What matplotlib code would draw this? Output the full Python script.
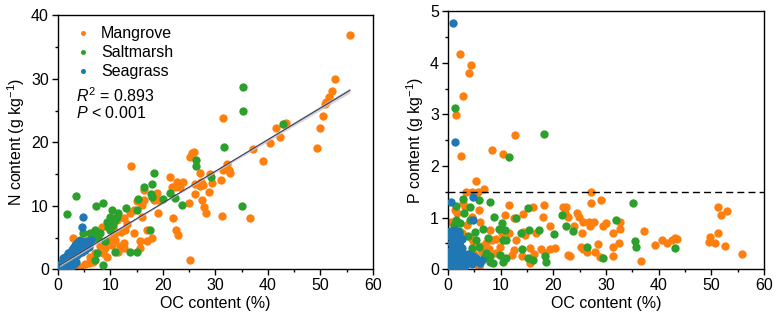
import matplotlib
matplotlib.use("Agg")
import matplotlib.pyplot as plt
import numpy as np

plt.rcParams['font.family'] = ['Liberation Sans', 'DejaVu Sans']
plt.rcParams['mathtext.fontset'] = 'custom'
plt.rcParams['mathtext.rm'] = 'Liberation Sans'
plt.rcParams['mathtext.it'] = 'Liberation Sans:italic'
plt.rcParams['mathtext.bf'] = 'Liberation Sans:bold'

# ---------------- Data: left panel (OC vs N) ----------------
mangrove_oc_n = [55.6, 52.8, 52.2, 51.6, 51.1, 50.9, 50.5, 50.0, 49.3, 43.4, 43.0, 41.6, 42.3, 40.4, 37.1, 39.1, 36.5,
                 31.5, 32.2, 32.5, 32.7, 31.5, 31.0, 31.2, 29.3, 29.0, 28.8, 27.1, 27.3, 27.7, 27.0, 27.4, 27.9, 28.2,
                 25.0, 26.1, 26.1, 25.2, 25.5, 25.9, 25.2, 23.8, 23.3, 22.6, 22.3, 21.7, 21.4, 22.0, 22.4, 22.9,
                 18.9, 19.1, 19.1, 18.2, 14.0, 16.3, 16.3, 16.0, 15.0, 14.4, 13.7, 12.5, 13.1, 12.8, 14.4, 16.9,
                 17.9, 16.9, 15.6, 15.6, 12.5, 12.5, 11.5, 10.9, 10.6, 9.9, 9.3, 9.0, 8.6, 9.3, 8.0, 8.3, 7.4,
                 6.1, 4.8, 4.2, 5.5, 2.8, 3.6, 7.1, 5.1, 10.6, 11.2, 16.0, 12.0, 11.8, 10.2, 6.6, 5.9]
mangrove_n = [36.9, 30.0, 28.1, 27.2, 26.4, 26.0, 24.1, 22.3, 19.1, 23.1, 22.9, 22.2, 20.9, 19.9, 18.9, 17.0, 8.0,
              23.9, 16.6, 15.7, 15.1, 15.6, 14.1, 8.4, 13.6, 15.0, 12.2, 15.1, 13.8, 13.3, 13.1, 10.9, 9.8, 8.8,
              10.5, 13.4, 11.9, 17.7, 18.3, 18.5, 1.5, 13.8, 13.0, 13.8, 13.0, 13.0, 14.6, 8.0, 6.2, 5.4,
              12.0, 10.9, 8.8, 10.9, 16.3, 12.5, 10.9, 10.1, 10.7, 9.3, 8.8, 8.0, 7.2, 6.2, 5.7, 6.2,
              4.9, 4.4, 4.4, 3.3, 4.1, 3.3, 2.8, 4.6, 5.4, 4.6, 4.1, 3.3, 2.5, 2.0, 3.6, 6.7, 5.1,
              2.0, 3.0, 0.4, 4.6, 5.0, 2.5, 2.5, 0.9, 6.2, 7.8, 8.3, 5.8, 3.6, 3.8, 1.2, 1.0]

saltmarsh_oc_n = [35.3, 35.3, 42.9, 31.7, 26.2, 26.3, 29.2, 35.0, 23.6, 21.4, 22.3, 20.1, 18.3, 18.0, 17.7, 18.0,
                  16.3, 15.3, 15.1, 13.0, 11.5, 10.3, 9.9, 9.3, 10.2, 10.9, 8.6, 7.2, 3.4, 1.8, 9.9, 7.1, 8.0,
                  7.7, 5.8, 7.4, 7.1, 8.6, 10.9, 13.7, 15.0, 17.5, 4.8, 6.1, 4.2, 11.2, 10.5, 9.6, 6.8, 8.9]
saltmarsh_n = [28.7, 24.9, 22.9, 19.3, 17.2, 16.2, 14.6, 9.9, 10.2, 12.0, 11.2, 11.0, 15.1, 13.4, 11.8, 11.4,
               13.0, 11.0, 9.3, 9.6, 8.8, 9.4, 8.3, 7.5, 7.5, 7.8, 10.5, 9.9, 11.5, 8.7, 6.2, 6.2, 5.7,
               5.1, 3.8, 2.5, 1.5, 0.7, 2.8, 2.8, 2.7, 6.2, 5.7, 5.7, 4.6, 8.3, 7.0, 6.6, 5.0, 4.4]

seagrass_oc_n = [0.3, 0.5, 0.7, 0.9, 1.0, 1.2, 1.3, 1.5, 1.6, 1.8, 1.9, 2.0, 2.1, 2.2, 2.3, 2.5, 2.6, 2.7, 2.8,
                 2.9, 3.0, 3.1, 3.2, 3.3, 3.4, 3.5, 3.6, 3.7, 3.8, 3.9, 4.0, 4.1, 4.2, 4.3, 4.5, 4.6, 4.8,
                 5.0, 5.2, 5.5, 5.8, 6.0, 6.3, 1.0, 1.5, 0.6, 2.4, 3.0, 0.4, 0.8, 1.1, 1.4, 1.7, 2.0, 2.3,
                 2.6, 2.9, 3.3, 3.6, 4.0, 4.4, 0.2, 0.5, 1.2, 1.9, 2.7, 3.4, 4.7, 4.5,
                 1.6, 2.2, 2.8, 3.5, 4.2, 4.9, 5.4, 1.0, 1.8, 2.5, 3.2, 3.9]
seagrass_n = [0.2, 0.5, 0.3, 0.8, 0.4, 1.0, 0.6, 1.3, 0.8, 1.5, 1.0, 1.8, 0.7, 1.3, 2.1, 1.6, 2.4, 1.1, 2.0,
              2.7, 1.5, 2.3, 3.0, 1.9, 2.6, 3.3, 2.2, 3.7, 2.9, 4.0, 3.3, 2.5, 4.3, 3.6, 4.0, 2.8, 3.5,
              4.3, 3.0, 3.8, 4.4, 3.5, 4.6, 0.1, 0.3, 0.9, 0.9, 0.8, 0.6, 1.2, 1.6, 1.9, 2.1, 2.5, 2.8,
              3.1, 3.4, 3.8, 4.1, 4.4, 4.5, 0.1, 0.0, 0.2, 0.4, 0.5, 1.2, 8.2, 6.7,
              2.0, 2.6, 3.2, 3.9, 3.8, 4.0, 4.2, 1.8, 1.1, 1.9, 3.6, 4.3]

# regression fit
fit_intercept = 0.5
fit_slope = 0.498
fit_x_range = [0.3, 55.6]
fit_ci = 0.4
r2_text = r'$R^2$ = 0.893'
p_text = r'$P$ < 0.001'

# ---------------- Data: right panel (OC vs P) ----------------
mangrove_oc_p = [2.2, 4.4, 3.9, 2.9, 1.6, 2.5, 12.7, 8.3, 10.4, 5.3, 6.9, 3.5, 4.5, 5.6, 27.1, 27.2, 29.0, 11.6,
                 18.2, 16.2, 21.9, 22.4, 22.3, 24.4, 24.9, 25.7, 26.7, 27.7, 27.0, 29.5, 30.0, 32.7, 32.7, 31.3,
                 23.9, 22.8, 25.5, 25.7, 25.2, 26.3, 27.9, 28.4, 28.9, 31.4, 31.3, 32.5, 37.3, 36.6, 39.3, 40.6,
                 41.6, 42.6, 43.1, 43.5, 49.7, 49.6, 50.7, 51.3, 51.9, 53.0, 51.3, 52.6, 55.8, 22.8, 23.2, 20.3,
                 19.4, 19.3, 18.1, 16.8, 17.6, 18.4, 15.6, 15.6, 16.3, 14.6, 14.2, 14.3, 12.5, 13.0, 12.5, 12.1,
                 14.0, 10.8, 10.3, 9.9, 9.2, 8.3, 8.0, 6.1, 5.8, 4.6, 2.9, 1.3, 0.5, 2.6, 4.2, 7.3, 6.4, 5.9,
                 4.5, 9.9, 11.5, 9.2, 3.2, 4.8, 6.5, 7.8, 1.8, 3.6, 2.2, 5.0]
mangrove_p = [4.17, 3.96, 3.81, 3.35, 2.99, 2.20, 2.60, 2.31, 2.23, 1.71, 1.55, 1.50, 1.50, 1.50, 1.50, 1.29, 1.34, 1.25,
              1.25, 1.21, 1.20, 1.20, 1.09, 1.09, 1.02, 0.92, 0.92, 0.92, 0.84, 0.83, 0.89, 0.92, 0.79, 0.71,
              0.83, 1.01, 0.70, 0.39, 0.43, 0.34, 0.34, 0.49, 0.23, 0.44, 0.26, 0.50, 0.75, 0.17, 0.47, 0.56,
              0.50, 0.56, 0.60, 0.58, 0.63, 0.52, 0.50, 1.21, 1.05, 1.12, 0.70, 0.46, 0.30, 0.28, 0.25, 0.41,
              0.39, 0.83, 1.01, 0.70, 0.39, 0.32, 0.12, 0.41, 0.30, 0.67, 0.73, 1.07, 0.99, 0.56, 0.37, 0.28,
              0.25, 1.05, 0.70, 0.44, 0.58, 0.57, 0.76, 0.92, 1.14, 1.02, 1.28, 1.15, 0.92, 0.70, 0.63, 0.50, 0.34, 0.05,
              0.12, 0.28, 0.70, 0.31, 1.20, 0.55, 0.45, 0.40, 1.10, 0.85, 0.45, 0.30]

saltmarsh_oc_p = [1.4, 18.2, 11.6, 35.2, 31.8, 21.6, 22.4, 23.7, 26.3, 29.5, 35.5, 35.7, 43.1, 20.1, 17.3, 15.3,
                  15.1, 12.9, 13.8, 14.0, 15.1, 16.2, 18.4, 18.6, 8.0, 8.7, 9.6, 10.2, 10.8, 11.1, 10.5, 9.9,
                  10.5, 11.1, 8.0, 8.6, 5.9, 4.2, 2.9, 1.5, 3.0, 1.6, 2.3, 4.2, 5.1, 5.4, 6.7, 7.5, 7.3, 6.8,
                  8.0, 5.9, 4.5, 1.2, 2.0, 3.8]
saltmarsh_p = [3.12, 2.62, 2.18, 1.29, 0.96, 1.05, 0.83, 0.75, 0.44, 0.21, 0.54, 0.44, 0.41, 0.68, 0.76, 0.76,
               1.18, 0.99, 0.70, 0.39, 0.21, 0.18, 0.25, 0.15, 1.31, 1.02, 0.78, 0.89, 0.76, 0.57, 0.57, 0.28,
               0.15, 0.21, 0.15, 0.12, 1.34, 1.21, 1.36, 1.23, 1.10, 0.96, 0.89, 0.96, 0.73, 0.57, 0.79, 0.60, 0.31, 0.21,
               0.25, 0.44, 0.41, 0.85, 0.75, 0.65]

seagrass_oc_p = [0.9, 1.3, 0.5, 4.7, 4.8, 0.3, 0.6, 0.9, 1.2, 1.5, 1.8, 2.1, 2.4, 2.7, 3.0, 3.3, 0.4, 0.7, 1.0,
                 1.3, 1.6, 1.9, 2.2, 2.5, 2.8, 3.1, 3.4, 0.3, 0.6, 0.9, 1.2, 1.5, 1.8, 2.1, 2.4, 2.7, 3.0,
                 0.5, 0.8, 1.1, 1.4, 1.7, 2.0, 2.3, 2.6, 0.4, 0.7, 1.0, 1.3, 1.6, 1.9, 2.2, 3.6, 4.0, 4.5,
                 5.0, 5.5, 6.0, 6.5, 4.2, 4.8, 5.3, 3.8, 0.3, 0.8, 1.4, 2.0, 2.6, 0.6, 1.2, 1.8]
seagrass_p = [4.78, 2.47, 1.31, 1.41, 0.96, 0.05, 0.08, 0.06, 0.04, 0.07, 0.05, 0.08, 0.06, 0.05, 0.07, 0.06, 0.20, 0.22, 0.18,
              0.21, 0.19, 0.23, 0.20, 0.18, 0.22, 0.17, 0.15, 0.36, 0.38, 0.35, 0.37, 0.34, 0.36, 0.33, 0.35, 0.32, 0.30,
              0.50, 0.52, 0.49, 0.51, 0.48, 0.50, 0.45, 0.42, 0.65, 0.68, 0.70, 0.66, 0.62, 0.72, 0.60, 0.12, 0.15, 0.10,
              0.14, 0.20, 0.12, 0.18, 0.28, 0.25, 0.22, 0.30, 0.75, 0.74, 0.76, 0.70, 0.58, 0.28, 0.44, 0.60]
p_threshold = 1.5

# ---------------- Styling ----------------
c_mangrove = '#FF7F0E'
c_saltmarsh = '#2CA02C'
c_seagrass = '#1F77B4'
ms = 36

fig = plt.figure(figsize=(7.77, 3.23), dpi=100)
ax1 = fig.add_axes([0.0746, 0.1663, 0.4054, 0.7863])
ax2 = fig.add_axes([0.5766, 0.1663, 0.4067, 0.7987])

def style(ax):
    ax.tick_params(which='major', direction='out', length=4.5, width=1, labelsize=11.5, pad=2,
                   top=False, right=False)
    ax.tick_params(which='minor', direction='out', length=2.5, width=1, top=False, right=False)
    for s in ax.spines.values():
        s.set_linewidth(1.0)

# Left panel
ax1.scatter(mangrove_oc_n, mangrove_n, s=ms, c=c_mangrove, linewidths=0, label='Mangrove', zorder=2)
ax1.scatter(saltmarsh_oc_n, saltmarsh_n, s=ms, c=c_saltmarsh, linewidths=0, label='Saltmarsh', zorder=3)
ax1.scatter(seagrass_oc_n, seagrass_n, s=ms, c=c_seagrass, linewidths=0, label='Seagrass', zorder=4)
fx = np.linspace(fit_x_range[0], fit_x_range[1], 50)
fy = fit_intercept + fit_slope * fx
ci = fit_ci * (0.3 + 0.7 * np.abs(fx - 20) / 35)
ax1.fill_between(fx, fy - ci, fy + ci, color='#C8C8C8', alpha=0.75, linewidth=0, zorder=5)
ax1.plot(fx, fy, color='#3A3A5A', lw=0.8, zorder=6)
ax1.set_xlim(0, 60)
ax1.set_ylim(0, 40)
ax1.set_xticks([0, 10, 20, 30, 40, 50, 60])
ax1.set_xticks(np.arange(5, 60, 10), minor=True)
ax1.set_yticks([0, 10, 20, 30, 40])
ax1.set_yticks(np.arange(5, 40, 10), minor=True)
ax1.set_xlabel('OC content (%)', fontsize=11.5, labelpad=2)
ax1.set_ylabel(r'N content (g kg$^{-1}$)', fontsize=11.5, labelpad=3)
style(ax1)
leg = ax1.legend(loc='upper left', bbox_to_anchor=(0.01, 1.01), frameon=False, fontsize=11.5,
                 handletextpad=0.5, handlelength=1.2, labelspacing=0.25, markerscale=0.6, borderpad=0.3)
ax1.text(0.058, 0.685, r2_text, transform=ax1.transAxes, fontsize=11.5, va='center')
ax1.text(0.058, 0.615, p_text, transform=ax1.transAxes, fontsize=11.5, va='center')

# Right panel
ax2.scatter(mangrove_oc_p, mangrove_p, s=ms, c=c_mangrove, linewidths=0, zorder=2)
ax2.scatter(saltmarsh_oc_p, saltmarsh_p, s=ms, c=c_saltmarsh, linewidths=0, zorder=3)
ax2.scatter(seagrass_oc_p, seagrass_p, s=ms, c=c_seagrass, linewidths=0, zorder=4)
ax2.axhline(p_threshold, color='black', lw=1.0, ls=(0, (5, 3)), zorder=5)
ax2.set_xlim(0, 60)
ax2.set_ylim(0, 5)
ax2.set_xticks([0, 10, 20, 30, 40, 50, 60])
ax2.set_xticks(np.arange(5, 60, 10), minor=True)
ax2.set_yticks([0, 1, 2, 3, 4, 5])
ax2.set_yticks(np.arange(0.5, 5, 1), minor=True)
ax2.set_xlabel('OC content (%)', fontsize=11.5, labelpad=2)
ax2.set_ylabel(r'P content (g kg$^{-1}$)', fontsize=11.5, labelpad=3)
style(ax2)

fig.savefig('out.png', dpi=100)
